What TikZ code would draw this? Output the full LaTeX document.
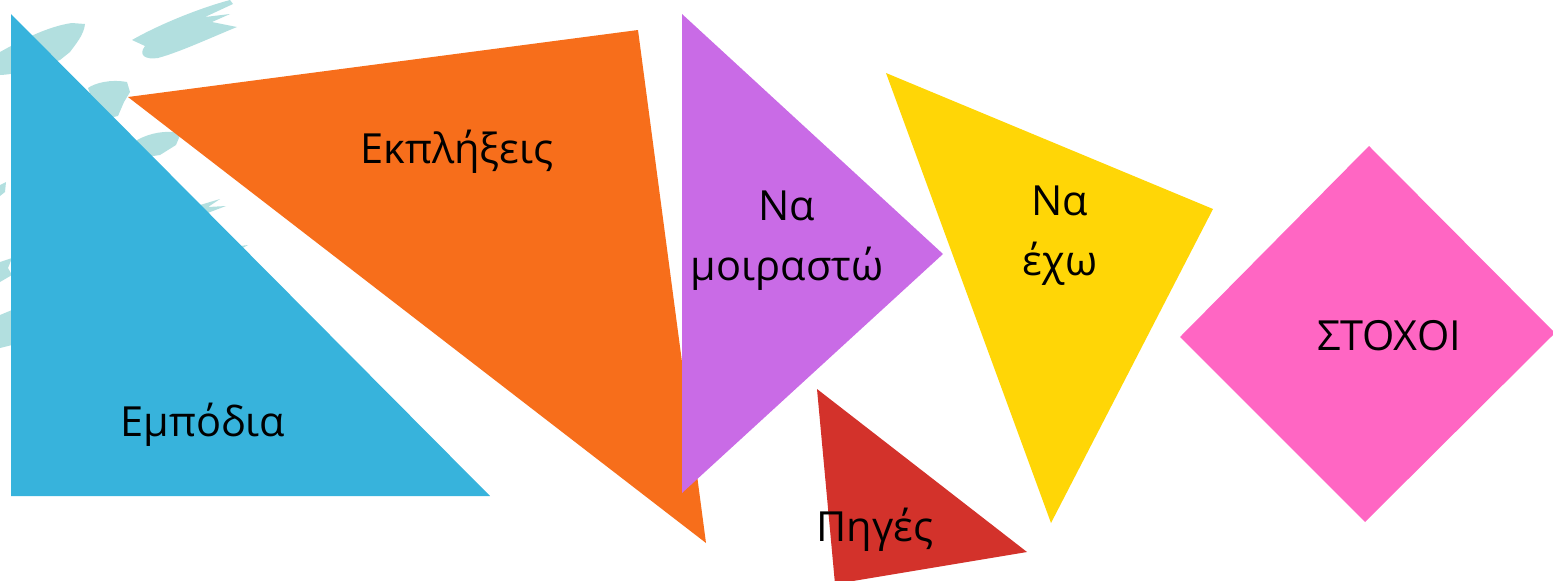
\documentclass[tikz,border=0pt]{standalone}
\usepackage{fontspec}
\setmainfont{Open Sans}
\definecolor{cblue}{HTML}{37B3DC}
\definecolor{corange}{HTML}{F76E1B}
\definecolor{cpurple}{HTML}{C96BE6}
\definecolor{cred}{HTML}{D3322B}
\definecolor{cyellow}{HTML}{FFD606}
\definecolor{cpink}{HTML}{FF66C3}
\definecolor{cbrush}{HTML}{B2DFDF}
\begin{document}
\begin{tikzpicture}[x=1pt,y=-1pt,
  lbl/.style={font=\fontsize{41.5}{60}\selectfont, text=black, align=center, inner sep=0pt},
  brush/.style={fill=cbrush, draw=none}]
\useasboundingbox (0,0) rectangle (1553,581);
\clip (0,0) rectangle (1553,581);
% brush strokes
\fill[brush] (0,52) .. controls (25,38) and (50,26) .. (72,23) -- (85,24) .. controls (84,35) and (75,45) .. (70,52) -- (60,60) .. controls (40,68) and (20,74) .. (0,75) -- cycle;
\fill[brush] (132,40) .. controls (160,24) and (200,8) .. (230,0) -- (233,4) -- (205,17) -- (230,14) -- (212,22) -- (237,27) .. controls (210,38) and (180,52) .. (158,58) .. controls (145,60) and (138,55) .. (145,46) -- cycle;
\fill[brush] (88,88) .. controls (95,83) and (110,79) .. (127,82) -- (130,92) -- (124,102) -- (118,116) -- (100,120) -- cycle;
\fill[brush] (137,140) .. controls (150,133) and (165,130) .. (181,133) -- (176,145) -- (160,155) -- (140,158) -- cycle;
\fill[brush] (200,205) -- (220,199) -- (208,207) -- (226,206) -- (205,214) -- cycle;
\fill[brush] (0,185) -- (6,182) -- (5,192) -- (0,196) -- cycle;
\fill[brush] (0,262) -- (12,258) -- (8,268) -- (12,275) -- (0,282) -- cycle;
\fill[brush] (0,315) -- (12,310) -- (12,345) -- (0,348) -- cycle;
\fill[brush] (210,250) -- (248,245) -- (225,258) -- cycle;
% shapes
\fill[corange] (128,97) -- (638,30) -- (706,543) -- cycle;
\fill[cblue] (11,14) -- (11,496) -- (490,496) -- cycle;
\fill[cpurple] (682,14) -- (943,254) -- (682,493) -- cycle;
\fill[cred] (817,389) -- (1027,552) -- (835,584) -- cycle;
\fill[cyellow] (886,73) -- (1213,209) -- (1051,523) -- cycle;
\fill[cpink] (1369,146) -- (1555,333) -- (1365,522) -- (1180,337) -- cycle;
% labels
\node[lbl] (ekp) at (457,152) {Εκπλήξεις};
\node[lbl] (emp) at (203,425) {Εμπόδια};
\node[lbl] (moi) at (787,241) {Να\\μοιραστώ};
\node[lbl] (exo) at (1060,236) {Να\\έχω};
\node[lbl] (pig) at (875,530) {Πηγές};
\node[lbl] (sto) at (1389,336) {ΣΤΟΧΟΙ};
\end{tikzpicture}
\end{document}
